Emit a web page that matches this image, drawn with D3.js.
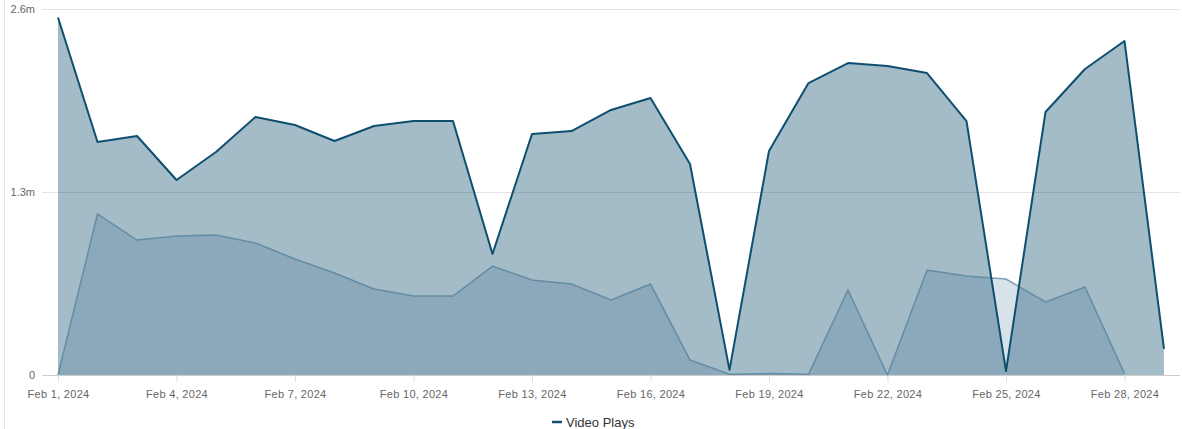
<!DOCTYPE html>
<html>
<head>
<meta charset="utf-8">
<script src="https://cdn.jsdelivr.net/npm/d3@7"></script>
<style>
  body { margin: 0; background: #fff; }
  svg { display: block; font-family: "Liberation Sans", Arial, sans-serif; }
</style>
</head>
<body>
<svg id="chart" width="1182" height="429"></svg>
<script>
// values (millions)
const days = d3.range(1, 30)
const videoPlays = [2.54, 1.655, 1.698, 1.385, 1.584, 1.833, 1.776, 1.662, 1.769, 1.804,
  1.804, 0.86, 1.712, 1.733, 1.883, 1.968, 1.499, 0.036, 1.591, 2.074,
  2.216, 2.195, 2.145, 1.804, 0.028, 1.868, 2.174, 2.373, 0.185]
const secondSeries = [0, 1.144, 0.959, 0.987, 0.995, 0.938, 0.824, 0.725, 0.611, 0.561,
  0.561, 0.774, 0.675, 0.646, 0.533, 0.646, 0.107, 0.005, 0.01, 0.005,
  0.604, 0, 0.746, 0.703, 0.682, 0.519, 0.625, 0.01]
const yTicks = [0, 1.3, 2.6]
const yTickLabels = ['0', '1.3m', '2.6m']
const xTickDays = [1, 4, 7, 10, 13, 16, 19, 22, 25, 28]

const svg = d3.select('#chart')
const dateOf = d => new Date(2024, 1, d)

const x = d3.scaleTime()
  .domain([dateOf(1), dateOf(29)])
  .range([58, 1164])

const y = d3.scaleLinear()
  .domain([0, 2.6])
  .range([375, 9])

// left frame line
svg.append('line')
  .attr('x1', 4.5).attr('x2', 4.5)
  .attr('y1', 0).attr('y2', 429)
  .attr('stroke', '#e6e6e6')

// gridlines + y labels
yTicks.forEach((t, i) => {
  svg.append('line')
    .attr('x1', 42).attr('x2', 1180)
    .attr('y1', Math.round(y(t)) + 0.5).attr('y2', Math.round(y(t)) + 0.5)
    .attr('stroke', t === 0 ? '#cccccc' : '#e3e3e3')
  svg.append('text')
    .attr('x', 35).attr('y', y(t) + 4)
    .attr('text-anchor', 'end')
    .attr('font-size', 11)
    .attr('fill', '#666')
    .text(yTickLabels[i])
})

const mainData = videoPlays.map((v, i) => ({ date: dateOf(days[i]), v }))
const secData = secondSeries.map((v, i) => ({ date: dateOf(days[i]), v }))

const area = d3.area()
  .x(d => x(d.date))
  .y0(y(0))
  .y1(d => y(d.v))

const line = d3.line()
  .x(d => x(d.date))
  .y(d => y(d.v))

svg.append('path')
  .datum(mainData)
  .attr('d', area)
  .attr('fill', '#0f4c6e')
  .attr('fill-opacity', 0.38)

svg.append('path')
  .datum(secData)
  .attr('d', area)
  .attr('fill', '#16537a')
  .attr('fill-opacity', 0.17)

svg.append('path')
  .datum(secData)
  .attr('d', line)
  .attr('fill', 'none')
  .attr('stroke', '#4f7d99')
  .attr('stroke-opacity', 0.7)
  .attr('stroke-width', 1.5)

svg.append('path')
  .datum(mainData)
  .attr('d', line)
  .attr('fill', 'none')
  .attr('stroke', '#0e4f70')
  .attr('stroke-width', 2)
  .attr('stroke-linejoin', 'round')

// x axis
const xAxis = d3.axisBottom(x)
  .tickValues(xTickDays.map(dateOf))
  .tickSize(7)
  .tickFormat(d3.timeFormat('%b %-d, %Y'))

const gx = svg.append('g')
  .attr('transform', 'translate(0,375)')
  .call(xAxis)
gx.select('.domain').remove()
gx.selectAll('.tick line').attr('stroke', '#e0e0e0')
gx.selectAll('.tick text')
  .attr('y', 15)
  .attr('font-size', 11)
  .attr('fill', '#666')
  .style('font-family', '"Liberation Sans", Arial, sans-serif')
  .attr('letter-spacing', '0.3px')

// legend
const leg = svg.append('g').attr('transform', 'translate(552,422)')
leg.append('line')
  .attr('x1', 0).attr('x2', 10)
  .attr('y1', 0).attr('y2', 0)
  .attr('stroke', '#0e4f70')
  .attr('stroke-width', 2.5)
leg.append('text')
  .attr('x', 14).attr('y', 4.5)
  .attr('font-size', 13)
  .attr('fill', '#333')
  .text('Video Plays')
</script>
</body>
</html>
